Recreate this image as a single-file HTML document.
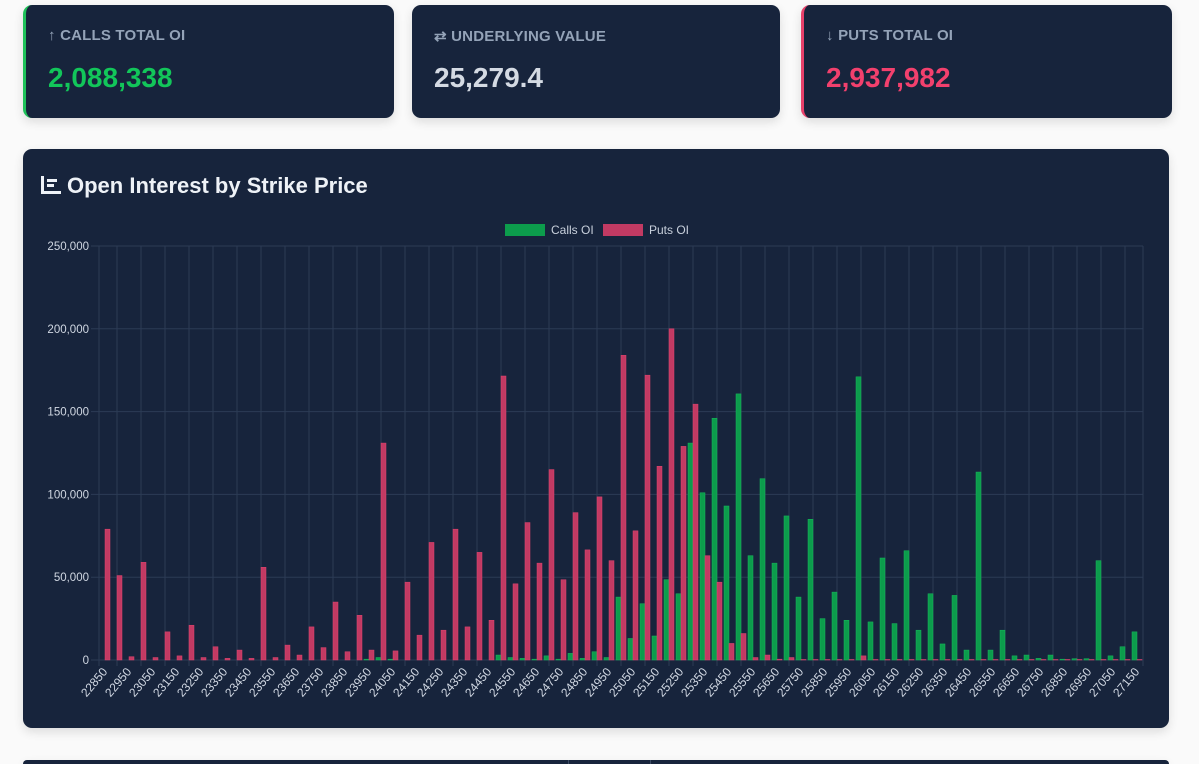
<!DOCTYPE html>
<html><head><meta charset="utf-8"><style>
html,body{margin:0;height:764px;overflow:hidden}
body{background:#fafafa;width:1199px;font-family:"Liberation Sans",sans-serif;position:relative}
.card{position:absolute;background:#17243c;border-radius:9px;box-shadow:0 4px 10px rgba(0,0,0,0.12)}
.lbl{position:absolute;left:22px;top:22px;font-size:15px;color:#94a3b8;letter-spacing:0.2px;font-weight:bold}
.val{position:absolute;left:22px;top:57px;font-size:28px;font-weight:bold}
</style></head><body>
<div class="card" style="left:23px;top:5px;width:368px;height:113px;border-left:3px solid #1fc25a">
 <div class="lbl">&#8593; CALLS TOTAL OI</div>
 <div class="val" style="color:#12c65a">2,088,338</div>
</div>
<div class="card" style="left:412px;top:5px;width:368px;height:113px">
 <div class="lbl">&#8644; UNDERLYING VALUE</div>
 <div class="val" style="color:#d4dae3">25,279.4</div>
</div>
<div class="card" style="left:801px;top:5px;width:368px;height:113px;border-left:3px solid #e8416b">
 <div class="lbl">&#8595; PUTS TOTAL OI</div>
 <div class="val" style="color:#f2406d">2,937,982</div>
</div>
<div class="card" style="left:23px;top:149px;width:1146px;height:579px">
 <div style="position:absolute;left:18px;top:24px;font-size:22px;font-weight:bold;color:#eef2f7"><span style="display:inline-block;width:20px;height:18px;border-left:3px solid #eef2f7;border-bottom:3px solid #eef2f7;box-sizing:border-box;margin-right:6px;vertical-align:-1px;background:linear-gradient(#eef2f7,#eef2f7) 3px 3px/10px 3px no-repeat,linear-gradient(#eef2f7,#eef2f7) 3px 8px/7px 3px no-repeat"></span>Open Interest by Strike Price</div>
</div>
<div class="card" style="left:23px;top:760px;width:1146px;height:4px;border-radius:9px 9px 0 0">
 <div style="position:absolute;left:545px;top:0;width:1px;height:4px;background:#3b4a63"></div>
 <div style="position:absolute;left:627px;top:0;width:1px;height:4px;background:#3b4a63"></div>
</div>
<svg id="chart" width="1199" height="764" style="position:absolute;left:0;top:0" font-family="Liberation Sans, sans-serif"></svg>
<script>
const startStrike=22850, stepStrike=50;
const callsOI=[0,0,0,0,0,0,0,0,0,0,0,0,0,0,0,0,0,0,0,0,0,0,500,1500,500,0,0,0,0,
 0,0,0,0,3000,1500,1000,500,2500,500,4000,1000,5000,1500,38000,13000,34000,14500,48500,40000,131000,101000,146000,93000,160700,63000,109500,58500,87000,38000,
 85000,25000,41000,24000,171000,23000,61600,22000,66000,18000,40000,9700,39000,6000,113500,6000,18000,2500,3000,1000,3000,500,800,800,60000,2500,8000,17000];
const putsOI=[79000,51000,2000,59000,1500,17000,2500,21000,1500,8000,1000,6000,1000,56000,1500,9000,3000,20000,7500,35000,5000,27000,6000,131000,5500,47000,15000,71000,18000,
 79000,20000,65000,24000,171500,46000,83000,58500,115000,48500,89000,66500,98500,60000,184000,78000,172000,117000,200000,129000,154500,63000,47000,10000,16000,1500,3000,500,1500,300,
 300,300,300,300,2500,300,300,300,300,300,300,300,300,300,300,300,300,300,300,300,300,300,300,300,300,300,300,300];
const yTicks=[0,50000,100000,150000,200000,250000];
const seriesNames=["Calls OI","Puts OI"];
const svg=document.getElementById('chart'),NS='http://www.w3.org/2000/svg';
const L=99,R=1143,T=246,B=660,yMax=250000,n=callsOI.length,cw=(R-L)/n;
const y=v=>B-v/yMax*(B-T);const xc=i=>L+cw*(i+0.5);
function mk(t,a){const e=document.createElementNS(NS,t);for(const k in a)e.setAttribute(k,a[k]);svg.appendChild(e);return e;}
yTicks.forEach(v=>{
 const g=mk('line',{x1:L-8,x2:R,y1:y(v),y2:y(v),stroke:'#2c3b55','stroke-width':1});
 
 
 const t=mk('text',{x:L-10,y:y(v)+4,'text-anchor':'end','font-size':11.5,fill:'#d0d7e2'});t.textContent=v.toLocaleString('en-US');
 
 
});
const vx=[L];for(let i=1;i<n;i+=2)vx.push(xc(i));vx.push(R);
vx.forEach(x=>{const g=mk('line',{x1:x,x2:x,y1:T,y2:B+6,stroke:'#2c3b55','stroke-width':1});
 
 });
const bw=5;
for(let i=0;i<n;i++){
 const c=mk('rect',{x:xc(i)-bw,y:y(callsOI[i]),width:bw,height:B-y(callsOI[i]),fill:'#0c9c4c',stroke:'#18b85c','stroke-width':0.5});
 
 
 const p=mk('rect',{x:xc(i),y:y(putsOI[i]),width:bw,height:B-y(putsOI[i]),fill:'#c23a63',stroke:'#e0446f','stroke-width':0.5});
 
 
 if(i%2===0){const x=xc(i)+3,yy=B+12;
  const t=mk('text',{x:x,y:yy,'text-anchor':'end','font-size':12,fill:'#d0d7e2',transform:`rotate(-50 ${x} ${yy})`});
  t.textContent=startStrike+i*stepStrike;
  
  }
}
const lg=[[505,'#0c9c4c',seriesNames[0]],[603,'#c23a63',seriesNames[1]]];
lg.forEach(([x,c,s],k)=>{
 const r=mk('rect',{x:x,y:224,width:40,height:12,fill:c});
 
 
 const t=mk('text',{x:x+46,y:234,'font-size':12,fill:'#c8d0dc'});t.textContent=s;
 
 
});
</script>
</body></html>
